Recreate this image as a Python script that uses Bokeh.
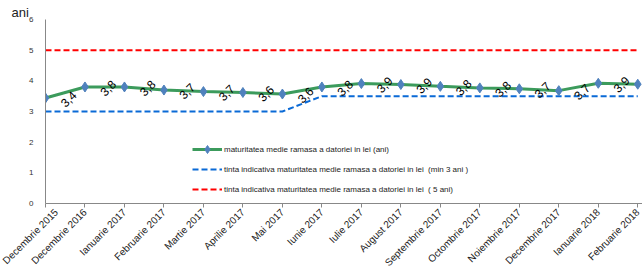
import math
from bokeh.plotting import figure
from bokeh.models import Range1d, Legend, LegendItem, FixedTicker, ColumnDataSource, Title
from bokeh.core.properties import value
from bokeh.embed import file_html
from bokeh.resources import INLINE

months = ["Decembrie 2015", "Decembrie 2016", "Ianuarie 2017", "Februarie 2017", "Martie 2017",
          "Aprilie 2017", "Mai 2017", "Iunie 2017", "Iulie 2017", "August 2017", "Septembrie 2017",
          "Octombrie 2017", "Noiembrie 2017", "Decembrie 2017", "Ianuarie 2018", "Februarie 2018"]
maturity = [3.44, 3.80, 3.80, 3.70, 3.65, 3.62, 3.57, 3.80, 3.91, 3.88, 3.82, 3.77, 3.74, 3.68, 3.92, 3.89]
maturity_labels = ["3,4", "3,8", "3,8", "3,7", "3,7", "3,6", "3,6", "3,8", "3,9", "3,9", "3,8", "3,8",
                   "3,7", "3,7", "3,9", "3,9"]
target_min = [3, 3, 3, 3, 3, 3, 3, 3.5, 3.5, 3.5, 3.5, 3.5, 3.5, 3.5, 3.5, 3.5]
target_5 = [5] * 16

FONT = "Liberation Sans"
xs = list(range(len(months)))

p = figure(width=642, height=275, output_backend="svg", toolbar_location=None,
           x_range=Range1d(0, 15.12), y_range=Range1d(0, 6),
           min_border_left=45, min_border_right=0, min_border_top=19, min_border_bottom=62)
p.outline_line_color = None
p.xgrid.visible = False
p.ygrid.visible = False
p.background_fill_color = "white"

r_red = p.line(xs, target_5, line_color="#ff0000", line_width=2, line_dash="6 3")
r_blue = p.line(xs, target_min, line_color="#0a6ad6", line_width=2, line_dash="6 3")
r_green = p.line(xs, maturity, line_color="#3c9b5c", line_width=3)
r_pts = p.scatter(xs, maturity, marker="diamond", size=10, fill_color="#4f81bd", line_color="#4f81bd")

src = ColumnDataSource(dict(x=xs, y=maturity, t=maturity_labels))
p.text(x="x", y="y", text="t", source=src, angle=math.pi / 4, x_offset=23, y_offset=1,
       text_align="center", text_baseline="middle", text_font=value(FONT),
       text_font_size="12px", text_color="#000000")

# axes
p.xaxis.ticker = FixedTicker(ticks=xs)
p.xaxis.major_label_overrides = {i: m for i, m in enumerate(months)}
p.xaxis.major_label_orientation = math.pi / 4
p.xaxis.major_label_text_font = FONT
p.xaxis.major_label_text_font_size = "10px"
p.xaxis.major_label_text_color = "#222222"
p.xaxis.axis_line_color = "#888888"
p.xaxis.major_tick_line_color = "#888888"
p.xaxis.major_tick_in = 0
p.xaxis.major_tick_out = 4
p.xaxis.minor_tick_line_color = None
p.xaxis.major_label_standoff = 3

p.yaxis.ticker = FixedTicker(ticks=[0, 1, 2, 3, 4, 5, 6])
p.yaxis.major_label_text_font = FONT
p.yaxis.major_label_text_font_size = "8px"
p.yaxis.major_label_text_color = "#333333"
p.yaxis.axis_line_color = "#888888"
p.yaxis.major_tick_line_color = None
p.yaxis.minor_tick_line_color = None
p.yaxis.major_label_standoff = 6

p.add_layout(Title(text="ani", align="left", offset=-34, standoff=0, vertical_align="bottom",
                   text_font=FONT, text_font_size="13px", text_font_style="normal",
                   text_color="#222222"), "above")

legend = Legend(items=[
    LegendItem(label="maturitatea medie ramasa a datoriei in lei (ani)", renderers=[r_green, r_pts]),
    LegendItem(label="tinta indicativa maturitatea medie ramasa a datoriei in lei  (min 3 ani )", renderers=[r_blue]),
    LegendItem(label="tinta indicativa maturitatea medie ramasa a datoriei in lei  ( 5 ani)", renderers=[r_red]),
], location=(147, 4), padding=0, margin=0, spacing=0, glyph_width=30, glyph_height=20,
    label_height=20, label_standoff=2, label_text_font=FONT, label_text_font_size="8px",
    label_text_color="#222222", border_line_color=None, background_fill_alpha=0)
p.add_layout(legend)

open("out.html", "w").write(file_html(p, INLINE))
